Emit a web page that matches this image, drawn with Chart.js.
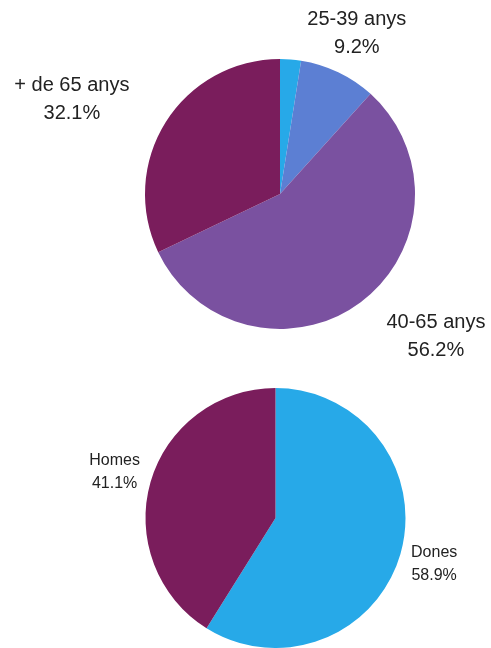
<!DOCTYPE html>
<html>
<head>
<meta charset="utf-8">
<script src="https://cdn.jsdelivr.net/npm/chart.js@4"></script>
<style>
  html, body { margin: 0; padding: 0; background: #fff; }
  body { width: 491px; height: 648px; position: relative; overflow: hidden; }
  .box { position: absolute; left: 0; width: 491px; }
  #edatBox { top: 0; height: 360px; }
  #sexeBox { top: 360px; height: 288px; }
</style>
</head>
<body>
<div class="box" id="edatBox"><canvas id="edat"></canvas></div>
<div class="box" id="sexeBox"><canvas id="sexe"></canvas></div>

<script>
// Age groups (first slice has no label in the picture)
const ageLabels = ['- de 25 anys', '25-39 anys', '40-65 anys', '+ de 65 anys'];
const ageValues = [2.5, 9.2, 56.2, 32.1];
const ageColors = ['#27a9e8', '#5c7fd3', '#7a51a0', '#7a1d5c'];

// Sex
const sexLabels = ['Dones', 'Homes'];
const sexValues = [58.9, 41.1];
const sexColors = ['#27a9e8', '#7a1d5c'];

/* ------------------------------------------
   Outside labels: name + percentage
------------------------------------------ */
const outsideLabels = {
  id: 'outsideLabels',
  afterDatasetsDraw(chart, args, opts) {
    const ctx = chart.ctx;
    const meta = chart.getDatasetMeta(0);
    const data = chart.data.datasets[0].data;

    ctx.save();
    ctx.fillStyle = '#222';
    ctx.font = `${opts.size}px "Liberation Sans", Arial, sans-serif`;
    ctx.textBaseline = 'middle';
    ctx.textAlign = 'center';

    meta.data.forEach((arc, i) => {
      if (data[i] < opts.minValue) return;
      const mid = (arc.startAngle + arc.endAngle) / 2;
      const x = arc.x + Math.cos(mid) * (arc.outerRadius + opts.offsetX);
      const y = arc.y + Math.sin(mid) * (arc.outerRadius + opts.offsetY);
      const c = Math.cos(mid);

      const lines = [chart.data.labels[i], data[i].toFixed(1) + '%'];
      const w = Math.max(...lines.map(t => ctx.measureText(t).width));
      // block aligned to anchor, lines centered inside the block
      let cx = x;
      if (c > 0.5) cx = x + w / 2;
      else if (c < -0.5) cx = x - w / 2;

      const half = opts.lineHeight / 2;
      ctx.fillText(lines[0], cx, y - half);
      ctx.fillText(lines[1], cx, y + half);
    });
    ctx.restore();
  }
};

function pie(id, labels, values, colors, padding, labelOpts) {
  return new Chart(document.getElementById(id), {
    type: 'pie',
    data: {
      labels: labels,
      datasets: [{
        data: values,
        backgroundColor: colors,
        borderWidth: 0
      }]
    },
    options: {
      responsive: true,
      maintainAspectRatio: false,
      animation: false,
      layout: { padding: padding },
      plugins: {
        legend: { display: false },
        tooltip: { enabled: false },
        outsideLabels: labelOpts
      }
    },
    plugins: [outsideLabels]
  });
}

pie('edat', ageLabels, ageValues, ageColors,
  { left: 145, right: 76, top: 59, bottom: 31 },
  { size: 20, lineHeight: 28, offsetX: 43, offsetY: 43, minValue: 5 });

pie('sexe', sexLabels, sexValues, sexColors,
  { left: 145, right: 85, top: 28, bottom: 0 },
  { size: 16, lineHeight: 23, offsetX: 11, offsetY: 36, minValue: 5 });
</script>
</body>
</html>
